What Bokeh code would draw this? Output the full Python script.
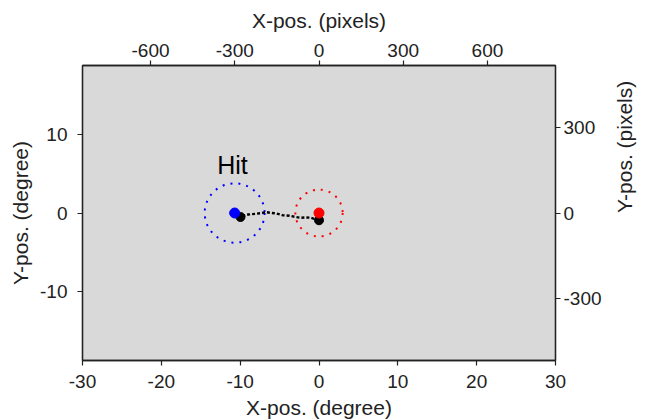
import math
from bokeh.plotting import figure
from bokeh.models import Range1d, LinearAxis, FixedTicker, Label
from bokeh.embed import file_html
from bokeh.resources import INLINE

# ---- data (degrees) ----
target_x = [0.0]
target_y = [0.0]
target_radius = 3.0
hit_x = [-10.7]
hit_y = [0.0]
hit_radius = 3.8
gaze_x = [0.0, -1.03, -1.71, -2.38, -3.06, -3.74, -4.63, -5.39, -6.1, -6.7, -7.3, -8.05, -8.48, -8.98, -9.49, -9.96]
gaze_y = [-0.93, -0.61, -0.57, -0.61, -0.49, -0.36, -0.28, -0.06, 0.02, 0.11, -0.02, -0.1, -0.15, -0.19, -0.32, -0.51]
endpoints_x = [0.0, -9.96]
endpoints_y = [-0.93, -0.51]
deg_ticks = [-30, -20, -10, 0, 10, 20, 30]
ydeg_ticks = [-10, 0, 10]
px_ticks = [-600, -300, 0, 300, 600]
ypx_ticks = [-300, 0, 300]
xpx_per_deg = 28.08
ypx_per_deg = 27.36
x_lim = 30.0
y_lim = 18.9
label_text = "Hit"
label_x = -10.98
label_y = 6.13

FONT = "Liberation Sans"
TXT = "#222222"

p = figure(output_backend="svg", toolbar_location=None,
           frame_width=473, frame_height=295,
           min_border_left=82, min_border_right=92, min_border_top=65, min_border_bottom=60,
           x_range=Range1d(-x_lim, x_lim), y_range=Range1d(-y_lim, y_lim),
           x_axis_location=None, y_axis_location=None)
p.background_fill_color = "#d9d9d9"
p.border_fill_color = "white"
p.outline_line_color = "#222222"
p.outline_line_width = 1.3
p.grid.visible = False

p.extra_x_ranges = {"px": Range1d(-x_lim * xpx_per_deg, x_lim * xpx_per_deg)}
p.extra_y_ranges = {"px": Range1d(-y_lim * ypx_per_deg, y_lim * ypx_per_deg)}


def style(ax, label, ticks, std, lstd):
    ax.axis_label = label
    ax.ticker = FixedTicker(ticks=ticks)
    ax.major_label_overrides = {t: str(t) for t in ticks}
    ax.minor_tick_line_color = None
    ax.major_tick_out = 5
    ax.major_tick_in = 0
    ax.major_tick_line_color = "#222222"
    ax.major_tick_line_width = 1.2
    ax.axis_line_color = "#222222"
    ax.axis_line_width = 1.3
    ax.major_label_text_font = FONT
    ax.major_label_text_font_size = "19px"
    ax.major_label_text_color = TXT
    ax.axis_label_text_font = FONT
    ax.axis_label_text_font_size = "21px"
    ax.axis_label_text_font_style = "normal"
    ax.axis_label_text_color = TXT
    ax.major_label_standoff = std
    ax.axis_label_standoff = lstd


bx = LinearAxis()
style(bx, "X-pos. (degree)", deg_ticks, 9, 5)
p.add_layout(bx, "below")
ly = LinearAxis()
style(ly, "Y-pos. (degree)", ydeg_ticks, 10, 5)
p.add_layout(ly, "left")
tx = LinearAxis(x_range_name="px")
style(tx, "X-pos. (pixels)", px_ticks, 4, 9)
p.add_layout(tx, "above")
ry = LinearAxis(y_range_name="px")
style(ry, "Y-pos. (pixels)", ypx_ticks, 3, 20)
ry.axis_label_orientation = math.pi / 2
p.add_layout(ry, "right")

# dotted circles
p.ellipse(x=hit_x, y=hit_y, width=2 * hit_radius, height=2 * hit_radius,
          fill_alpha=0, line_color="blue", line_width=2, line_dash="2 6")
p.ellipse(x=target_x, y=target_y, width=2 * target_radius, height=2 * target_radius,
          fill_alpha=0, line_color="red", line_width=2, line_dash="2 6")

# gaze trajectory
p.line(gaze_x, gaze_y, line_color="black", line_width=2.4, line_dash="3 2")
p.scatter(endpoints_x, endpoints_y, size=9, color="black")

# markers
p.scatter(hit_x, hit_y, size=10, color="blue")
p.scatter(target_x, target_y, size=10, color="red")

p.add_layout(Label(x=label_x, y=label_y, text=label_text,
                   text_font=FONT, text_font_size="25px", text_align="center",
                   text_baseline="middle", text_color="black"))

open("out.html", "w").write(file_html(p, INLINE))
